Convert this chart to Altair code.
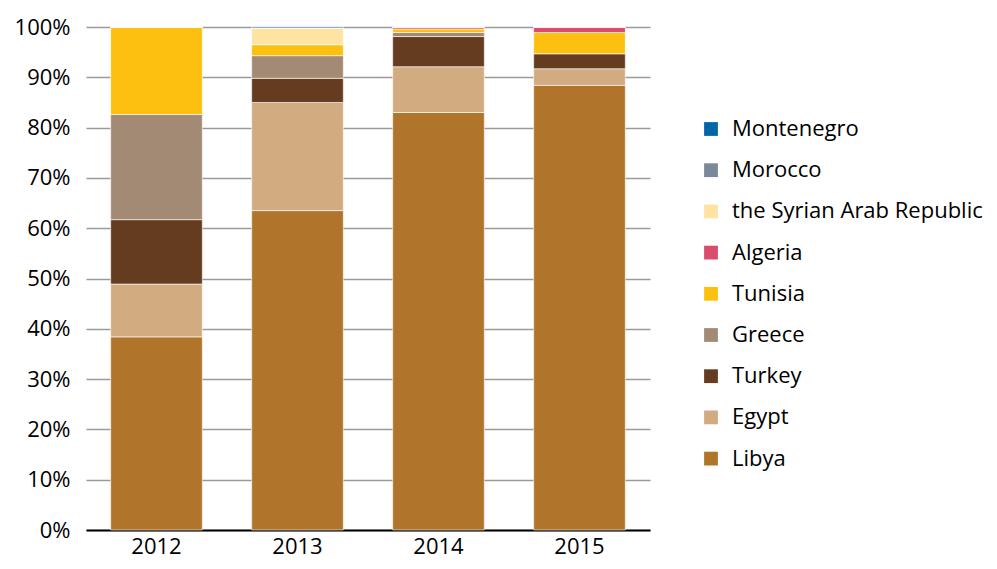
import altair as alt
import pandas as pd

years = ["2012", "2013", "2014", "2015"]
countries = ["Montenegro", "Morocco", "the Syrian Arab Republic", "Algeria",
             "Tunisia", "Greece", "Turkey", "Egypt", "Libya"]
colors = ["#0066A8", "#7A8899", "#FFE3A3", "#DB4B6D",
          "#FDC010", "#A38A74", "#653C20", "#D2AB81", "#B0752B"]

libya = [38.4, 63.5, 83.0, 88.4]
egypt = [10.5, 21.5, 9.1, 3.3]
turkey = [12.8, 4.8, 6.0, 3.0]
greece = [20.9, 4.5, 0.8, 0.0]
tunisia = [17.4, 2.2, 0.7, 4.2]
algeria = [0.0, 0.0, 0.3, 1.1]
syria = [0.0, 3.3, 0.0, 0.0]
morocco = [0.0, 0.0, 0.1, 0.0]
montenegro = [0.0, 0.2, 0.0, 0.0]

series = {
    "Libya": libya, "Egypt": egypt, "Turkey": turkey, "Greece": greece,
    "Tunisia": tunisia, "Algeria": algeria, "the Syrian Arab Republic": syria,
    "Morocco": morocco, "Montenegro": montenegro,
}
stack_order = list(series.keys())

rows = []
for name, vals in series.items():
    for y, v in zip(years, vals):
        rows.append({"year": y, "country": name, "value": v,
                     "order": stack_order.index(name)})
df = pd.DataFrame(rows)

FONT = "Open Sans"

chart = alt.Chart(df).mark_bar(stroke="white", strokeWidth=0.6).encode(
    x=alt.X("year:N", title=None,
            scale=alt.Scale(paddingInner=0.35, paddingOuter=0.175),
            axis=alt.Axis(labelAngle=0, labelFontSize=22, labelPadding=23,
                          labelBaseline="alphabetic",
                          ticks=False, domainColor="black", domainWidth=2,
                          labelColor="black", labelFont=FONT)),
    y=alt.Y("value:Q", stack="normalize", title=None,
            scale=alt.Scale(domain=[0, 1], nice=False),
            axis=alt.Axis(format=".0%", values=[i / 10 for i in range(11)],
                          labelFontSize=22, labelPadding=16, ticks=False,
                          domain=False, gridColor="#9a9a9a", gridWidth=1.5,
                          labelColor="black", labelFont=FONT)),
    color=alt.Color("country:N",
                    scale=alt.Scale(domain=countries, range=colors),
                    legend=alt.Legend(title=None, orient="none",
                                      legendX=614, legendY=91,
                                      symbolType="square", symbolSize=190,
                                      symbolStrokeWidth=0,
                                      labelFontSize=22, labelFont=FONT,
                                      labelColor="black", labelOffset=10,
                                      labelLimit=330,
                                      rowPadding=19.2)),
    order=alt.Order("order:Q", sort="ascending"),
).properties(
    width=564, height=503,
    autosize=alt.AutoSizeParams(type="none"),
    padding={"left": 78, "top": 19, "right": 339, "bottom": 30},
).configure_view(stroke=None)

chart.save("out.html", embed_options={"renderer": "svg", "actions": False})
